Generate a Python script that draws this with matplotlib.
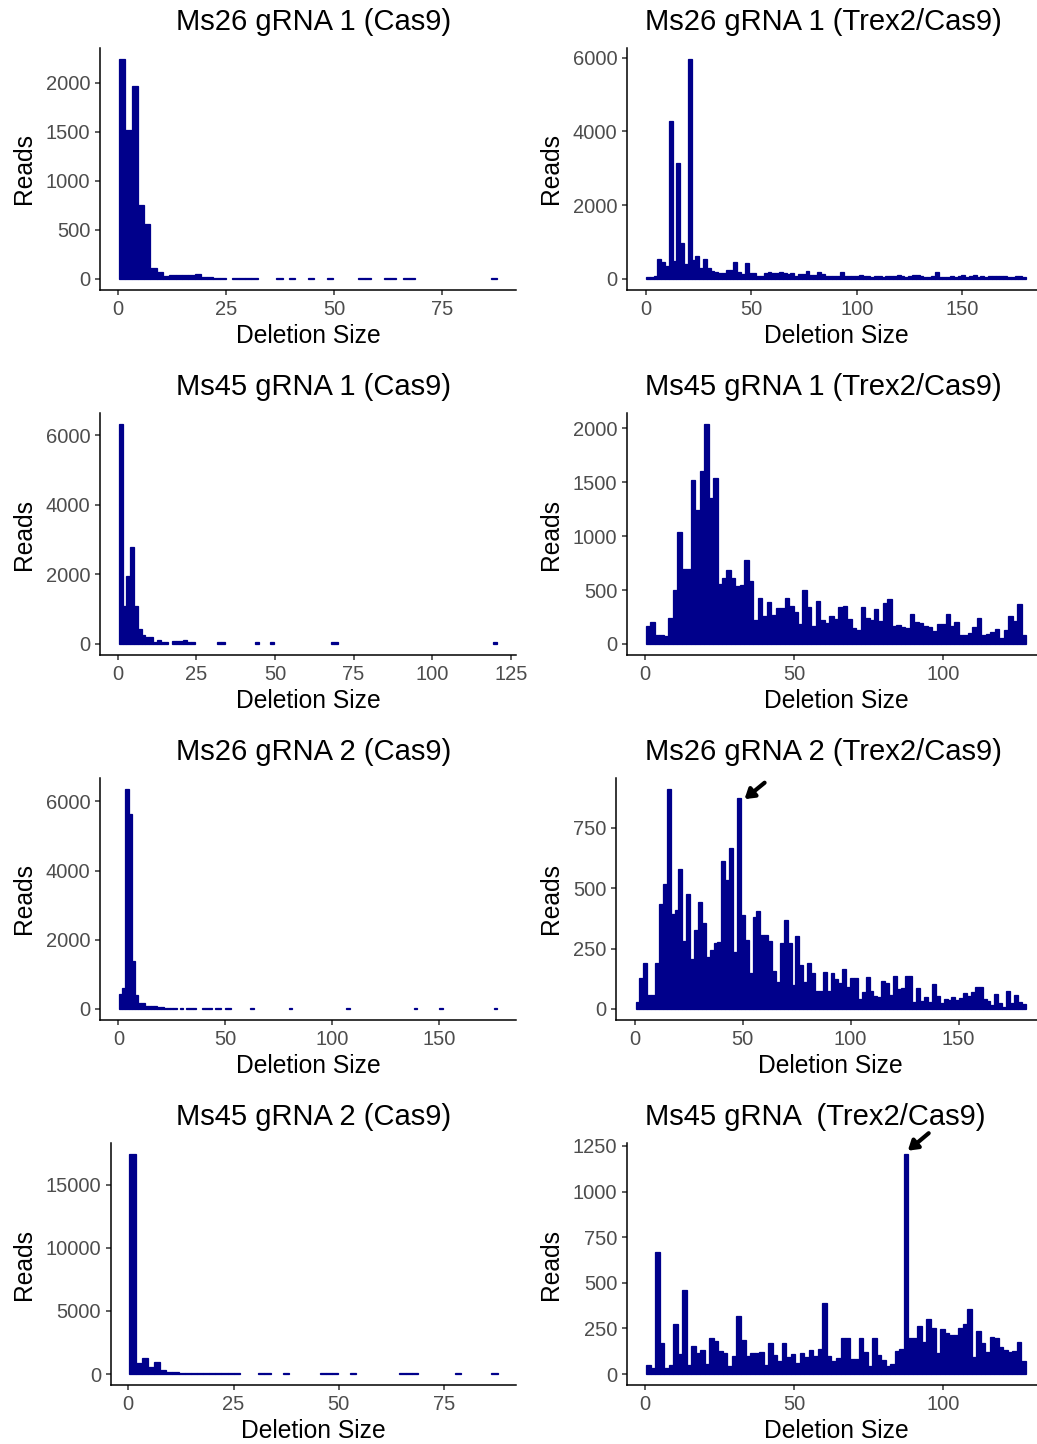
import numpy as np
import matplotlib
matplotlib.use("Agg")
import matplotlib.pyplot as plt

plt.rcParams['font.family'] = ['Liberation Sans', 'DejaVu Sans']

W, H, DPI = 1037, 1444, 100
NAVY = '#00008B'

# ---------------- data (reads per deletion-size bin) ----------------
titles = ["Ms26 gRNA 1 (Cas9)", "Ms26 gRNA 1 (Trex2/Cas9)",
          "Ms45 gRNA 1 (Cas9)", "Ms45 gRNA 1 (Trex2/Cas9)",
          "Ms26 gRNA 2 (Cas9)", "Ms26 gRNA 2 (Trex2/Cas9)",
          "Ms45 gRNA 2 (Cas9)", "Ms45 gRNA  (Trex2/Cas9)"]

# bin ranges (deletion size) for each panel
p1_bins = (0.27, 87.73)
p2_bins = (0.10, 180.10)
p3_bins = (0.40, 120.60)
p4_bins = (0.25, 127.75)
p5_bins = (0.25, 177.25)
p6_bins = (0.45, 180.95)
p7_bins = (0.27, 87.73)
p8_bins = (0.25, 127.75)

p1_reads = [2240, 1520, 1970, 750, 560, 115, 75, 30, 40, 40,
            40, 40, 50, 25, 20, 15, 15, 0, 15, 15,
            15, 15, 0, 0, 0, 15, 0, 15, 0, 0,
            15, 0, 0, 15, 0, 0, 0, 0, 15, 15,
            0, 0, 15, 15, 0, 15, 15, 0, 0, 0,
            0, 0, 0, 0, 0, 0, 0, 0, 0, 15]

p2_reads = [60, 60, 90, 555, 450, 360, 4270, 475, 3150, 985,
            400, 5960, 520, 630, 310, 540, 310, 220, 200, 160,
            150, 240, 240, 466, 180, 125, 420, 150, 150, 90,
            90, 150, 180, 150, 160, 200, 160, 135, 150, 90,
            125, 125, 215, 115, 115, 180, 130, 90, 80, 70,
            90, 180, 90, 70, 80, 70, 110, 80, 70, 60,
            70, 70, 60, 70, 70, 80, 110, 70, 60, 70,
            120, 120, 70, 60, 60, 70, 180, 60, 60, 60,
            70, 60, 70, 110, 60, 70, 120, 60, 70, 60,
            80, 90, 90, 90, 70, 60, 60, 80, 70, 60]

p3_reads = [6330, 1095, 1970, 2790, 1095, 430, 265, 210, 210, 70,
            115, 70, 70, 0, 95, 95, 95, 115, 70, 70,
            0, 0, 0, 0, 0, 0, 60, 60, 0, 0,
            0, 0, 0, 0, 0, 0, 60, 0, 0, 0,
            60, 0, 0, 0, 0, 0, 0, 0, 0, 0,
            0, 0, 0, 0, 0, 0, 60, 60, 0, 0,
            0, 0, 0, 0, 0, 0, 0, 0, 0, 0,
            0, 0, 0, 0, 0, 0, 0, 0, 0, 0,
            0, 0, 0, 0, 0, 0, 0, 0, 0, 0,
            0, 0, 0, 0, 0, 0, 0, 0, 0, 60]

p4_reads = [170, 205, 85, 80, 70, 245, 505, 1035, 695, 695,
            1520, 1240, 1600, 2040, 1350, 1540, 555, 610, 685, 610,
            540, 550, 780, 580, 220, 425, 255, 390, 270, 330,
            330, 425, 350, 300, 185, 500, 345, 165, 400, 225,
            195, 255, 235, 340, 355, 235, 150, 130, 340, 245,
            220, 325, 210, 380, 420, 170, 180, 155, 150, 275,
            205, 195, 170, 155, 125, 190, 190, 280, 170, 200,
            85, 85, 100, 160, 245, 80, 95, 115, 140, 60,
            130, 260, 210, 370, 80]

p5_reads = [420, 600, 6360, 5640, 1385, 400, 170, 170, 95, 95,
            75, 75, 50, 50, 40, 40, 35, 30, 0, 40,
            0, 40, 40, 40, 0, 0, 40, 40, 40, 0,
            40, 40, 0, 40, 40, 0, 0, 0, 0, 0,
            0, 40, 0, 0, 0, 0, 0, 0, 0, 0,
            0, 0, 0, 40, 0, 0, 0, 0, 0, 0,
            0, 0, 0, 0, 0, 0, 0, 0, 0, 0,
            0, 40, 0, 0, 0, 0, 0, 0, 0, 0,
            0, 0, 0, 0, 0, 0, 0, 0, 0, 0,
            0, 0, 40, 0, 0, 0, 0, 0, 0, 0,
            40, 0, 0, 0, 0, 0, 0, 0, 0, 0,
            0, 0, 0, 0, 0, 0, 0, 40]

p6_reads = [30, 130, 191, 58, 58, 191, 435, 518, 910, 394,
            408, 580, 280, 474, 206, 326, 441, 356, 216, 243,
            275, 278, 611, 534, 664, 234, 872, 387, 284, 150,
            381, 407, 305, 305, 282, 157, 111, 271, 370, 273,
            99, 301, 181, 113, 191, 147, 74, 74, 153, 76,
            147, 125, 106, 165, 92, 130, 130, 40, 71, 133,
            73, 54, 51, 115, 106, 58, 137, 81, 88, 137,
            137, 30, 85, 34, 51, 27, 102, 54, 26, 40,
            37, 51, 37, 44, 65, 54, 71, 92, 92, 41,
            34, 16, 62, 26, 10, 76, 26, 58, 30, 21]

p7_reads = [17460, 850, 1260, 540, 950, 350, 180, 150, 100, 100,
            90, 90, 90, 80, 70, 70, 70, 70, 0, 0,
            0, 70, 70, 0, 0, 60, 0, 0, 0, 0,
            0, 60, 60, 60, 0, 0, 60, 0, 0, 0,
            0, 0, 0, 0, 60, 60, 60, 0, 0, 0,
            0, 0, 0, 60, 0, 0, 0, 0, 0, 60]

p8_reads = [49, 31, 670, 168, 33, 51, 273, 109, 463, 50,
            155, 113, 131, 55, 197, 182, 128, 113, 46, 100,
            317, 186, 100, 115, 115, 118, 51, 171, 106, 73,
            171, 95, 109, 60, 113, 91, 133, 98, 138, 388,
            100, 73, 86, 197, 197, 82, 80, 200, 118, 44,
            197, 106, 77, 46, 55, 128, 137, 1206, 200, 197,
            261, 177, 304, 250, 113, 246, 224, 215, 215, 251,
            273, 355, 95, 233, 169, 118, 204, 195, 146, 131,
            118, 128, 177, 73]

x_ticks = [[0, 25, 50, 75], [0, 50, 100, 150],
           [0, 25, 50, 75, 100, 125], [0, 50, 100],
           [0, 50, 100, 150], [0, 50, 100, 150],
           [0, 25, 50, 75], [0, 50, 100]]
y_ticks = [[0, 500, 1000, 1500, 2000], [0, 2000, 4000, 6000],
           [0, 2000, 4000, 6000], [0, 500, 1000, 1500, 2000],
           [0, 2000, 4000, 6000], [0, 250, 500, 750],
           [0, 5000, 10000, 15000], [0, 250, 500, 750, 1000, 1250]]

# arrows (tail -> tip) in data units, for the Trex2 gRNA 2 panels
arrow_p6 = ((60.2, 936), (50.9, 868))
arrow_p8 = ((95.1, 1320), (88.1, 1224))

all_reads = [p1_reads, p2_reads, p3_reads, p4_reads,
             p5_reads, p6_reads, p7_reads, p8_reads]
all_bins = [p1_bins, p2_bins, p3_bins, p4_bins,
            p5_bins, p6_bins, p7_bins, p8_bins]

# ---------------- layout (pixels) ----------------
rows_y = [(48, 290), (413, 655), (778, 1020), (1143, 1385)]
left_x = [100, 627, 100, 627, 100, 616, 111, 627]
right_x = [516, 1045] * 4
title_x = [176, 645]
ylabel_x = [24, 551]

fig = plt.figure(figsize=(W / DPI, H / DPI), dpi=DPI)

for k in range(8):
    r, c = divmod(k, 2)
    top, bot = rows_y[r]
    l, rr = left_x[k], right_x[k]
    ax = fig.add_axes([l / W, 1 - bot / H, (rr - l) / W, (bot - top) / H])
    reads = np.array(all_reads[k], dtype=float)
    lo, hi = all_bins[k]
    edges = np.linspace(lo, hi, len(reads) + 1)
    w = edges[1] - edges[0]
    m = reads > 0
    ax.bar(edges[:-1][m], reads[m], width=w, align='edge',
           color=NAVY, edgecolor=NAVY, linewidth=0.9)
    span = hi - lo
    ax.set_xlim(lo - 0.05 * span, hi + 0.05 * span)
    ymax = reads.max()
    ax.set_ylim(-0.05 * ymax, 1.05 * ymax)
    ax.set_xticks(x_ticks[k])
    ax.set_yticks(y_ticks[k])
    for s in ['top', 'right']:
        ax.spines[s].set_visible(False)
    for s in ['left', 'bottom']:
        ax.spines[s].set_linewidth(1.1)
        ax.spines[s].set_color('black')
    ax.tick_params(axis='both', length=3.6, width=1.1, color='#333333',
                   labelsize=14.5, labelcolor='#4D4D4D', pad=3.5)
    ax.set_facecolor('white')

    # title, axis labels
    fig.text(title_x[c] / W, 1 - (top - 26) / H, titles[k], ha='left',
             va='center', fontsize=21, color='black')
    fig.text(((l + rr) / 2) / W, 1 - (bot + 46) / H, "Deletion Size",
             ha='center', va='center', fontsize=17.7, color='black')
    fig.text(ylabel_x[c] / W, 1 - ((top + bot) / 2) / H, "Reads",
             ha='center', va='center', rotation=90, fontsize=17.7,
             color='black')

    if k == 5 or k == 7:
        tail, tip = arrow_p6 if k == 5 else arrow_p8
        ax.annotate('', xy=tip, xytext=tail, annotation_clip=False,
                    arrowprops=dict(arrowstyle='-|>,head_length=0.55,head_width=0.35',
                                    lw=3, color='black', shrinkA=0, shrinkB=0))

fig.savefig('out.png', dpi=DPI, facecolor='white')
